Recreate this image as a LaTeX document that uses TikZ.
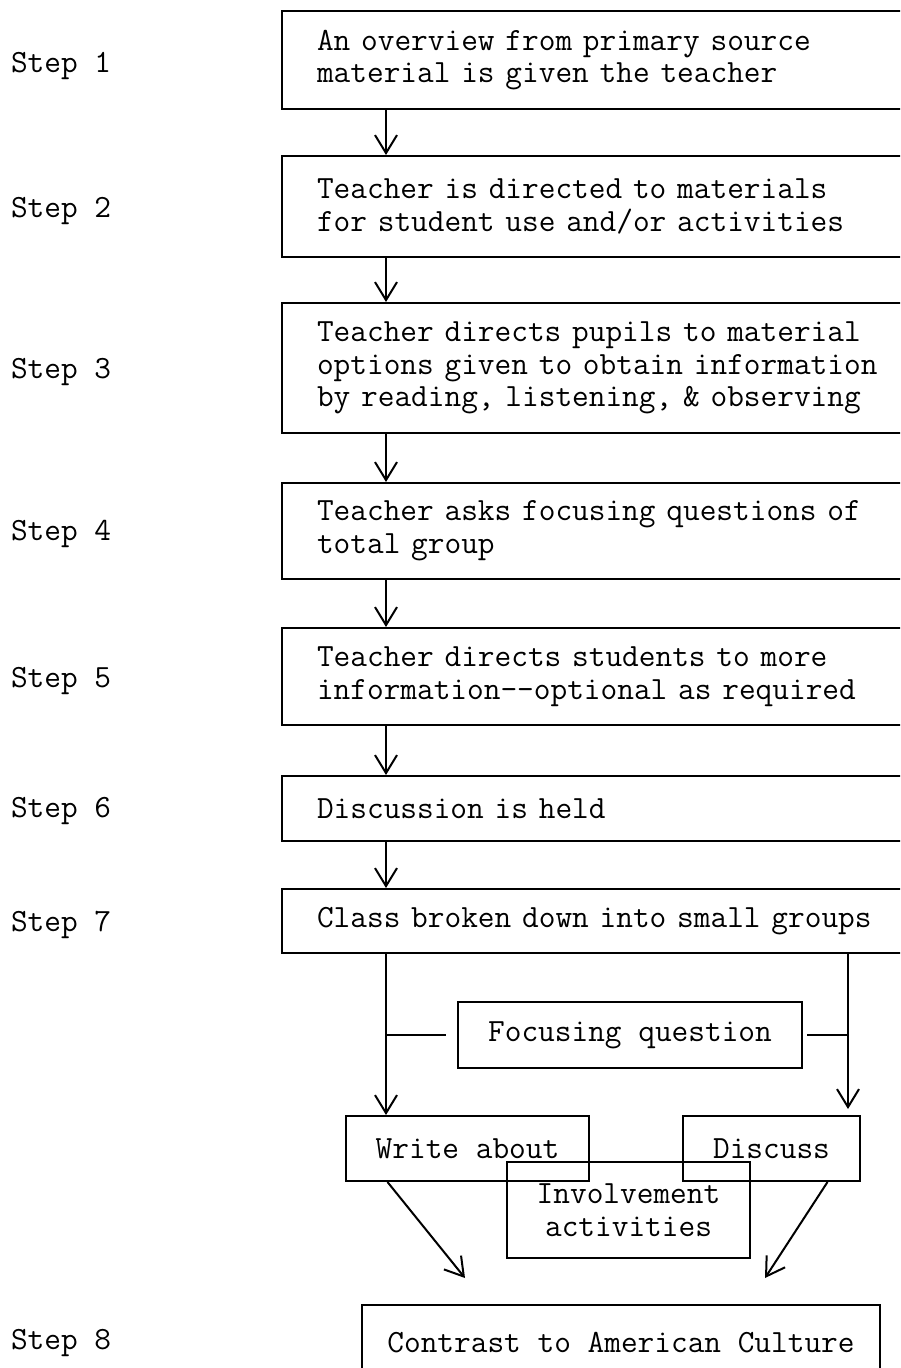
\documentclass[tikz,border=0pt]{standalone}
\usetikzlibrary{arrows.meta,%
                positioning}

\tikzset{
  stepbox/.style={draw, anchor=north west, text width=330pt,
    inner xsep=17.5pt, inner ysep=0pt, align=left},
  smallbox/.style={draw, inner sep=0pt, align=center},
  steplabel/.style={anchor=base west, inner sep=0pt},
  flow/.style={-{Straight Barb[length=9pt,width=11pt]}},
}

\begin{document}
\begin{tikzpicture}[x=0.5pt,y=-0.5pt,line width=1pt,
    font=\ttfamily\fontsize{16.2}{16.3}\selectfont]
      \clip (0,0) rectangle (900,1368);
      \useasboundingbox (0,0) rectangle (900,1368);

      % step names
      \node[steplabel] (l1) at (10,73)   {Step 1};
      \node[steplabel] (l2) at (10,218)  {Step 2};
      \node[steplabel] (l3) at (10,379)  {Step 3};
      \node[steplabel] (l4) at (10,540)  {Step 4};
      \node[steplabel] (l5) at (10,687)  {Step 5};
      \node[steplabel] (l6) at (10,817)  {Step 6};
      \node[steplabel] (l7) at (10,931)  {Step 7};
      \node[steplabel] (l8) at (10,1349) {Step 8};

      % main column
      \node[stepbox, minimum height=49pt] (s1) at (281,10)
        {An overview from primary source\\material is given the teacher};
      \node[stepbox, minimum height=50.5pt] (s2) at (281,155)
        {Teacher is directed to materials\\for student use and/or activities};
      \node[stepbox, minimum height=65pt] (s3) at (281,302)
        {Teacher directs pupils to material\\options given to obtain information\\by reading, listening, \& observing};
      \node[stepbox, minimum height=48pt] (s4) at (281,482)
        {Teacher asks focusing questions of\\total group};
      \node[stepbox, minimum height=48.5pt] (s5) at (281,627)
        {Teacher directs students to more\\information-{}-optional as required};
      \node[stepbox, minimum height=32.5pt] (s6) at (281,775)
        {Discussion is held};
      \node[stepbox, minimum height=32pt] (s7) at (281,888)
        {Class broken down into small groups};

      \coordinate (lft) at (386,0);
      \coordinate (rgt) at (848,0);

      \foreach \a/\b in {s1/s2,s2/s3,s3/s4,s4/s5,s5/s6,s6/s7}
        \draw[flow] (\a.south -| lft) -- (\b.north -| lft);

      % small groups
      \node[smallbox, minimum width=172pt, minimum height=33pt] (fq) at (630,1035)
        {Focusing question};
      \node[smallbox, minimum width=121.5pt, minimum height=32.5pt] (wr) at (467.5,1148.5)
        {Write about};
      \node[smallbox, minimum width=88.5pt, minimum height=32.5pt] (dis) at (771.5,1148.5)
        {Discuss};
      \node[smallbox, minimum width=121.5pt, minimum height=48pt] (inv) at (628.5,1210)
        {Involvement\\activities};
      \node[smallbox, minimum width=259pt, minimum height=37.5pt] (ct) at (621,1342.5)
        {Contrast to American Culture};

      \draw[flow] (s7.south -| lft) -- (wr.north -| lft);
      \draw[flow] (s7.south -| rgt) -- ([yshift=3pt]dis.north -| rgt);
      \draw (lft |- fq.west) -- ([xshift=-5.5pt]fq.west);
      \draw (rgt |- fq.east) -- ([xshift=2pt]fq.east);

      \coordinate (tipL) at (465,1278);
      \coordinate (tipR) at (765,1278);
      \draw[flow] ([xshift=-40pt]wr.south) -- (tipL);
      \draw[flow] ([xshift=28pt]dis.south) -- (tipR);
\end{tikzpicture}
\end{document}
